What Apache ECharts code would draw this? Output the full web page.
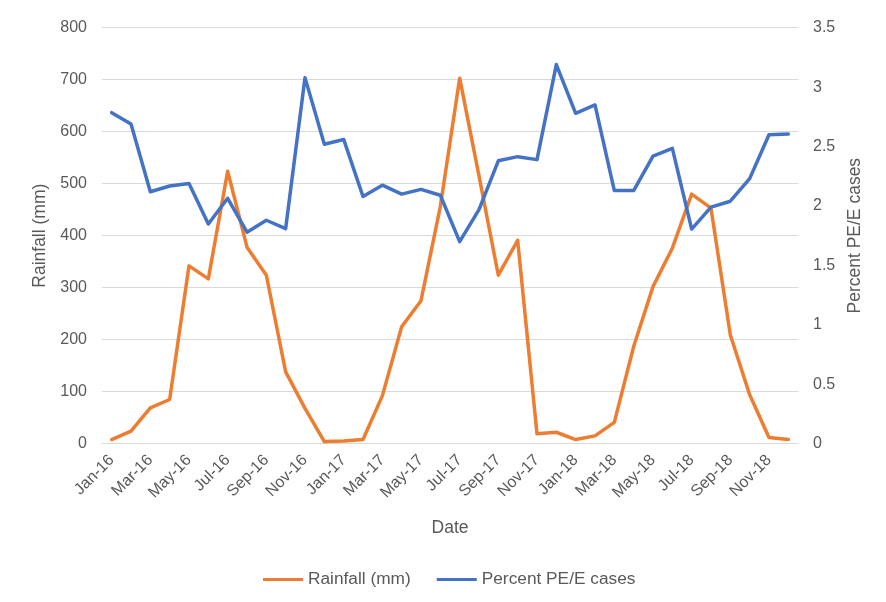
<!DOCTYPE html>
<html>
<head>
<meta charset="utf-8">
<script src="https://cdn.jsdelivr.net/npm/echarts@6/dist/echarts.min.js"></script>
<style>html,body{margin:0;padding:0;background:#fff}#c{width:886px;height:602px}</style>
</head>
<body>
<div id="c"></div>
<script>
var categories = ['Jan-16','Feb-16','Mar-16','Apr-16','May-16','Jun-16','Jul-16','Aug-16','Sep-16','Oct-16','Nov-16','Dec-16',
  'Jan-17','Feb-17','Mar-17','Apr-17','May-17','Jun-17','Jul-17','Aug-17','Sep-17','Oct-17','Nov-17','Dec-17',
  'Jan-18','Feb-18','Mar-18','Apr-18','May-18','Jun-18','Jul-18','Aug-18','Sep-18','Oct-18','Nov-18','Dec-18'];
var rainfall = [8, 24, 69, 85, 342, 317, 524, 378, 324, 138, 68, 4,
  5, 8, 92, 225, 275, 456, 703, 515, 324, 391, 19, 22,
  8, 15, 41, 187, 302, 376, 480, 453, 209, 94, 12, 8];
var percentPE = [2.785, 2.69, 2.12, 2.168, 2.19, 1.848, 2.065, 1.78, 1.88, 1.81, 3.08, 2.52,
  2.56, 2.08, 2.175, 2.10, 2.14, 2.09, 1.70, 1.97, 2.38, 2.415, 2.39, 3.19,
  2.78, 2.85, 2.13, 2.13, 2.42, 2.485, 1.806, 1.99, 2.04, 2.23, 2.60, 2.605];
var leftTicks = {min: 0, max: 800, interval: 100};
var rightTicks = {min: 0, max: 3.5, interval: 0.5};

var txt = '#595959';
var font = 'Liberation Sans, Arial, sans-serif';
var chart = echarts.init(document.getElementById('c'), null, {renderer: 'canvas'});
chart.setOption({
  animation: false,
  textStyle: {fontFamily: font},
  grid: {left: 102, right: 88, top: 27.7, bottom: 158.3, containLabel: false},
  legend: {
    bottom: 9, left: 258, icon: 'rect', itemWidth: 40, itemHeight: 3, itemGap: 26,
    textStyle: {color: txt, fontSize: 17.3, fontFamily: font},
    data: ['Rainfall (mm)', 'Percent PE/E cases']
  },
  xAxis: {
    type: 'category', data: categories, boundaryGap: true,
    name: 'Date', nameLocation: 'middle', nameGap: 75,
    nameTextStyle: {color: txt, fontSize: 17.5, fontFamily: font},
    axisLine: {lineStyle: {color: '#d9d9d9', width: 1}},
    axisTick: {interval: 1, length: 5, lineStyle: {color: '#d9d9d9'}},
    axisLabel: {interval: 1, rotate: 45, color: txt, fontSize: 16, fontFamily: font, margin: 14}
  },
  yAxis: [{
    type: 'value', min: leftTicks.min, max: leftTicks.max, interval: leftTicks.interval,
    name: 'Rainfall (mm)', nameLocation: 'middle', nameGap: 49,
    nameTextStyle: {color: txt, fontSize: 17.5, fontFamily: font},
    axisLine: {show: false}, axisTick: {show: false},
    axisLabel: {color: txt, fontSize: 16, fontFamily: font, margin: 15},
    splitLine: {lineStyle: {color: '#d9d9d9', width: 1}}
  }, {
    type: 'value', min: rightTicks.min, max: rightTicks.max, interval: rightTicks.interval,
    name: 'Percent PE/E cases', nameLocation: 'middle', nameGap: 48,
    nameTextStyle: {color: txt, fontSize: 17.5, fontFamily: font},
    axisLine: {show: false}, axisTick: {show: false},
    axisLabel: {color: txt, fontSize: 16, fontFamily: font, margin: 15},
    splitLine: {show: false}
  }],
  series: [{
    name: 'Rainfall (mm)', type: 'line', yAxisIndex: 0, data: rainfall,
    symbol: 'none', lineStyle: {color: '#ED7D31', width: 3.5, cap: 'round', join: 'round'},
    itemStyle: {color: '#ED7D31'}
  }, {
    name: 'Percent PE/E cases', type: 'line', yAxisIndex: 1, data: percentPE,
    symbol: 'none', lineStyle: {color: '#4472C4', width: 3.5, cap: 'round', join: 'round'},
    itemStyle: {color: '#4472C4'}
  }]
});
</script>
</body>
</html>
